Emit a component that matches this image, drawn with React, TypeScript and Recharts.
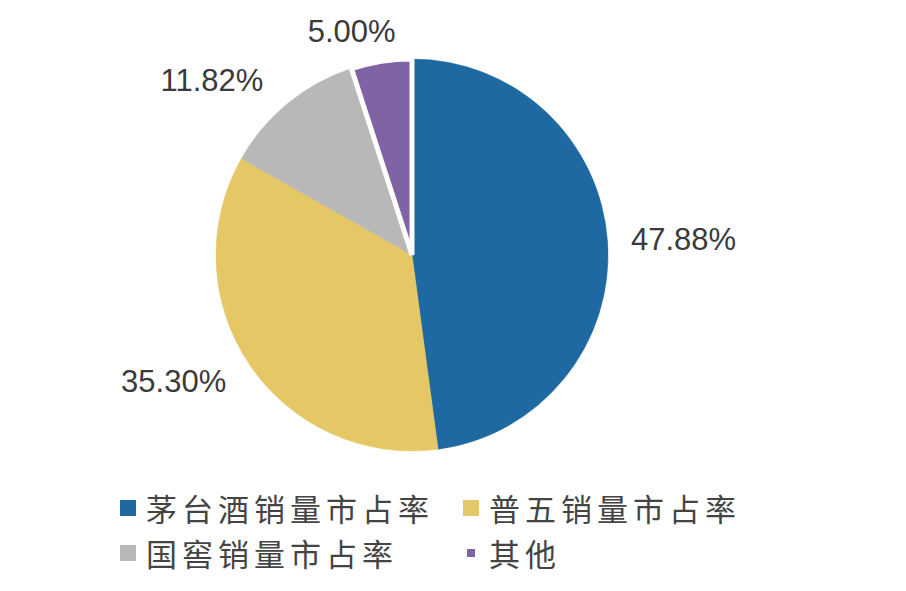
import { Cell, Legend, Pie, PieChart } from "recharts";

const names = ["茅台酒销量市占率", "普五销量市占率", "国窖销量市占率", "其他"];
const shares = [47.88, 35.3, 11.82, 5.0];
const colors = ["#1f69a3", "#e5c765", "#b8b8b8", "#8063a4"];

const data = names.map((name, i) => ({ name, value: shares[i] }));

const RAD = Math.PI / 180;

// label box sits just outside the rim, pushed sideways like office charts do
function renderLabel(props: any) {
  const { cx, cy, midAngle, outerRadius, value } = props;
  const c = Math.cos(-midAngle * RAD);
  const s = Math.sin(-midAngle * RAD);
  const x = cx + outerRadius * c + Math.sign(c) * 76 * Math.min(1, Math.abs(c) * 2.5);
  const y = cy + outerRadius * s + 30 * s;
  return (
    <text
      x={x}
      y={y}
      textAnchor="middle"
      dominantBaseline="central"
      fill="#3a3a3a"
      fontSize={31}
      fontFamily="'Liberation Sans', Arial, sans-serif"
    >
      {value.toFixed(2)}%
    </text>
  );
}

function renderLegend() {
  const colLeft = [120, 463];
  const rowTop = [488, 533];
  return (
    <div style={{ position: "relative", width: 906, height: 100 }}>
      {names.map((name, i) => {
        const small = i === 3;
        return (
          <div
            key={name}
            style={{
              position: "absolute",
              left: colLeft[i % 2],
              top: rowTop[Math.floor(i / 2)],
              height: 40,
              display: "flex",
              alignItems: "center",
              whiteSpace: "nowrap",
            }}
          >
            <span
              style={{
                display: "inline-block",
                width: small ? 8 : 16,
                height: small ? 8 : 16,
                margin: small ? "0 4px" : 0,
                background: colors[i],
              }}
            />
            <span
              style={{
                marginLeft: 10,
                fontSize: 31,
                letterSpacing: 5,
                color: "#444",
                fontFamily: "'Noto Sans CJK SC', sans-serif",
                lineHeight: "40px",
              }}
            >
              {name}
            </span>
          </div>
        );
      })}
    </div>
  );
}

export default function App() {
  return (
    <div style={{ width: 906, height: 591, background: "#fff" }}>
      <style>{"body{margin:0}"}</style>
      <PieChart width={906} height={591} margin={{ top: 0, right: 0, bottom: 0, left: 0 }}>
        <Pie
          data={data}
          dataKey="value"
          nameKey="name"
          cx={412}
          cy={255}
          outerRadius={196}
          startAngle={90}
          endAngle={-270}
          label={renderLabel}
          labelLine={false}
          isAnimationActive={false}
        >
          {data.map((d, i) => (
            <Cell
              key={d.name}
              fill={colors[i]}
              stroke={i === 3 ? "#fff" : colors[i]}
              strokeWidth={i === 3 ? 5 : 0.5}
            />
          ))}
        </Pie>
        <Legend
          content={renderLegend}
          wrapperStyle={{ position: "absolute", left: 0, top: 0, width: 906 }}
        />
      </PieChart>
    </div>
  );
}
